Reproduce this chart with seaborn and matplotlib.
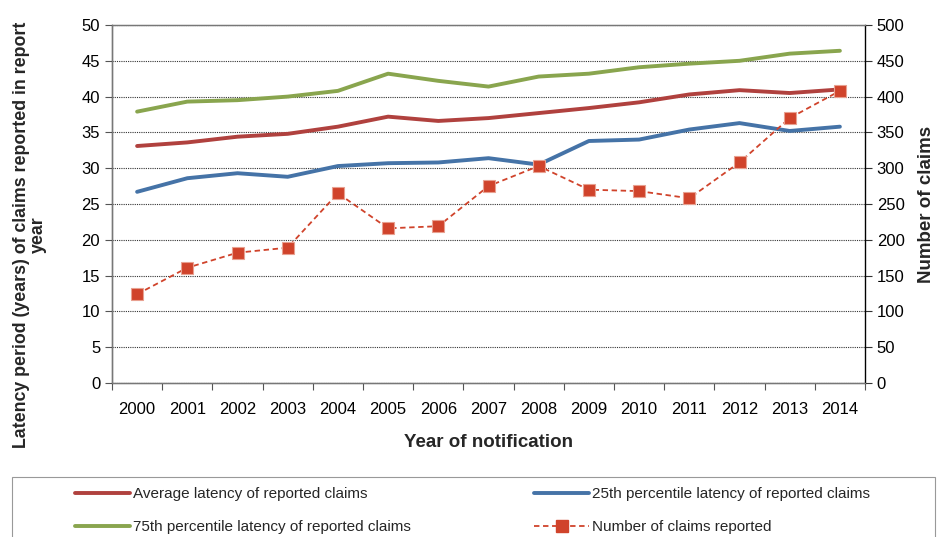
import numpy as np
import pandas as pd
import seaborn as sns
from matplotlib import pyplot as plt
from matplotlib.lines import Line2D
from matplotlib.patches import Rectangle

years = [str(y) for y in range(2000, 2015)]
avg_latency = [33.1, 33.6, 34.4, 34.8, 35.8, 37.2, 36.6, 37.0, 37.7, 38.4, 39.2, 40.3, 40.9, 40.5, 41.0]
p25_latency = [26.7, 28.6, 29.3, 28.8, 30.3, 30.7, 30.8, 31.4, 30.5, 33.8, 34.0, 35.4, 36.3, 35.2, 35.8]
p75_latency = [37.9, 39.3, 39.5, 40.0, 40.8, 43.2, 42.2, 41.4, 42.8, 43.2, 44.1, 44.6, 45.0, 46.0, 46.4]
n_claims = [124, 161, 182, 189, 265, 216, 219, 275, 303, 270, 268, 258, 308, 370, 408]

RED = "#b0413e"
BLUE = "#4573a7"
GREEN = "#89a54e"
ORANGE = "#d0432b"
LW = 2.8

sns.set_theme(style="white")
plt.rcParams["font.family"] = ["Liberation Sans", "DejaVu Sans"]

df = pd.DataFrame({
    "pos": np.arange(len(years)),
    "avg": avg_latency,
    "p25": p25_latency,
    "p75": p75_latency,
    "claims": n_claims,
})

W, H = 941, 537
fig = plt.figure(figsize=(W / 100, H / 100), dpi=100)
ax = fig.add_axes([112 / W, 1 - 383 / H, (865 - 112) / W, (383 - 25) / H])
ax2 = ax.twinx()

sns.lineplot(data=df, x="pos", y="p75", ax=ax, color=GREEN, lw=LW)
sns.lineplot(data=df, x="pos", y="avg", ax=ax, color=RED, lw=LW)
sns.lineplot(data=df, x="pos", y="p25", ax=ax, color=BLUE, lw=LW)
sns.lineplot(data=df, x="pos", y="claims", ax=ax2, color=ORANGE, lw=1.3,
             linestyle=(0, (3, 2)), marker="s", markersize=9, markeredgewidth=0.8,
             markeredgecolor="#e8a090")

ax.set_xlim(-0.5, len(years) - 0.5)
ax.set_ylim(0, 50)
ax2.set_ylim(0, 500)
ax.set_yticks(np.arange(0, 51, 5))
ax2.set_yticks(np.arange(0, 501, 50))

ax.set_xticks(np.arange(len(years)))
ax.set_xticklabels(years)
ax.set_xticks(np.arange(-0.5, len(years), 1), minor=True)
ax.tick_params(axis="x", which="major", length=0, labelsize=12, pad=14, colors="black")
ax.tick_params(axis="x", which="minor", length=5, width=0.8, color="#555555", direction="out", bottom=True)
ax.tick_params(axis="y", length=5, width=0.8, color="#555555", direction="out", left=True, labelsize=12, colors="black")
ax2.tick_params(axis="y", length=5, width=0.8, color="#333333", direction="out", right=True, labelsize=12, colors="black")

ax.yaxis.grid(True, color="#333333", linestyle=(0, (1, 1)), lw=0.8)
ax.set_axisbelow(True)

for a in (ax, ax2):
    for side in ("top", "bottom", "left", "right"):
        a.spines[side].set_visible(True)
        a.spines[side].set_color("#777777")
        a.spines[side].set_linewidth(0.9)
ax.spines["left"].set_color("black")
ax2.spines["right"].set_color("black")
ax.spines["bottom"].set_color("#444444")

ax.set_xlabel("Year of notification", fontsize=13.5, fontweight="bold", labelpad=12)
ax.set_ylabel("Latency period (years) of claims reported in report\nyear",
              fontsize=12.8, fontweight="bold", linespacing=1.05)
ax.yaxis.set_label_coords(-0.086, 0.415)
ax2.set_ylabel("Number of claims", fontsize=13.5, fontweight="bold")
ax2.yaxis.set_label_coords(1.07, 0.5)

# legend box, partly cut by the bottom edge as in the original
fig.patches.append(Rectangle((12 / W, -0.05), (935 - 12) / W, 0.05 + (537 - 477) / H,
                             transform=fig.transFigure, fill=False,
                             edgecolor="#999999", lw=0.8))

h_avg = Line2D([], [], color=RED, lw=LW)
h_p25 = Line2D([], [], color=BLUE, lw=LW)
h_p75 = Line2D([], [], color=GREEN, lw=LW)
h_n = Line2D([], [], color=ORANGE, lw=1.3, linestyle=(0, (3, 2)), marker="s", markersize=8)

legend_kw = dict(frameon=False, fontsize=11, handlelength=3.6, handletextpad=0.2,
                 labelspacing=1.25, borderaxespad=0, borderpad=0, loc="upper left")
leg1 = fig.legend([h_avg, h_p75],
                  ["Average latency of reported claims",
                   "75th percentile latency of reported claims"],
                  bbox_to_anchor=(75 / W, 1 - 487 / H), **legend_kw)
leg2 = fig.legend([h_p25, h_n],
                  ["25th percentile latency of reported claims",
                   "Number of claims reported"],
                  bbox_to_anchor=(534 / W, 1 - 487 / H), **legend_kw)

fig.savefig("out.png", dpi=100)
